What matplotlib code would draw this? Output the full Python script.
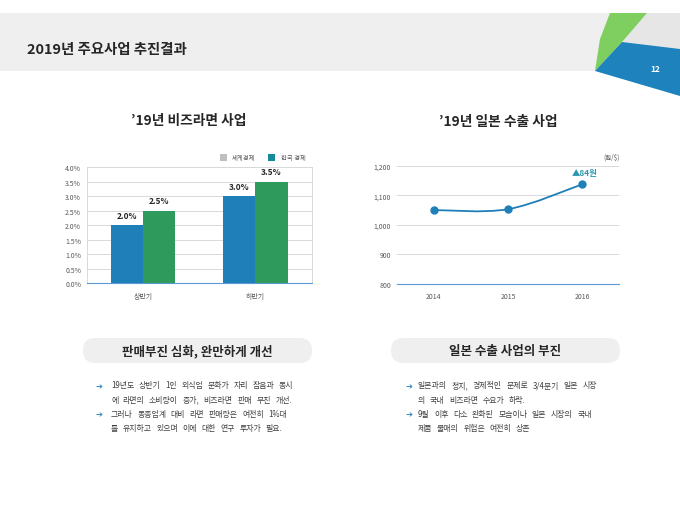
import matplotlib.pyplot as plt
from matplotlib.patches import Polygon, FancyBboxPatch, Rectangle, PathPatch
from matplotlib.path import Path

plt.rcParams['font.family'] = ['Noto Sans CJK KR', 'DejaVu Sans']

# ---- data ----
page_title = "2019년 주요사업 추진결과"
page_no = "12"

bar_title = "’19년 비즈라면 사업"
halves = ["상반기", "하반기"]
world = [2.0, 3.0]
korea = [2.5, 3.5]
bar_ticks = [0.0, 0.5, 1.0, 1.5, 2.0, 2.5, 3.0, 3.5, 4.0]
legend_names = ["세계경제", "한국 경제"]

line_title = "’19년 일본 수출 사업"
years = ["2014", "2015", "2016"]
rate = [1050, 1053, 1137]
rate_ticks = [800, 900, 1000, 1100, 1200]
rate_note = "▲84원"
rate_unit = "(원/$)"

left_head = "판매부진 심화, 완만하게 개선"
left_lines = ["19년도 상반기 1인 외식업 문화가 자리 잡음과 동시",
              "에 라면의 소비량이 증가, 비즈라면 판매 부진 개선.",
              "그러나 동종업계 대비 라면 판매량은 여전히 1%대",
              "를 유지하고 있으며 이에 대한 연구 투자가 필요."]
right_head = "일본 수출 사업의 부진"
right_lines = ["일본과의 정치, 경제적인 문제로 3/4분기 일본 시장",
               "의 국내 비즈라면 수요가 하락.",
               "9월 이후 다소 완화된 모습이나 일본 시장의 국내",
               "제품 불매의 위험은 여전히 상존"]
bullet_rows = [0, 2]

blue = "#1f7fb8"
green = "#2e9a5c"
grid = "#d9d9d9"
txt = "#404040"

fig = plt.figure(figsize=(6.8, 5.1), dpi=100)
renderer = fig.canvas.get_renderer()

# background layer in pixel units
bg = fig.add_axes([0, 0, 1, 1])
bg.set_xlim(0, 680)
bg.set_ylim(510, 0)
bg.axis("off")

bg.add_patch(Rectangle((0, 14), 680, 58, color="#efefef", lw=0))
bg.add_patch(Polygon([(622, 43), (647, 14), (680, 14), (680, 50)], color="#e6e6e6", lw=0))
bg.add_patch(Polygon([(610, 14), (647, 14), (622, 43), (595, 72), (600, 40)], color="#7ecf5f", lw=0))
bg.add_patch(Polygon([(595, 72), (622, 43), (680, 50), (680, 97)], color="#1e82bd", lw=0))
bg.text(655, 70, page_no, color="white", fontsize=6, fontweight="bold", ha="center", va="center")
bg.text(27, 50, page_title, color="#262626", fontsize=10.4, fontweight="bold", va="center")

bg.text(189, 121, bar_title, color="#262626", fontsize=9.9, fontweight="bold", ha="center", va="center")
bg.text(498, 122, line_title, color="#262626", fontsize=9.9, fontweight="bold", ha="center", va="center")

# legend of the bar chart (as drawn in the original)
bg.add_patch(Rectangle((220, 155), 7, 7, color="#bfbfbf", lw=0))
bg.text(232, 158.5, legend_names[0], color="#595959", fontsize=4.6, va="center")
bg.add_patch(Rectangle((268, 155), 7, 7, color="#138a9e", lw=0))
bg.text(281, 158.5, legend_names[1], color="#595959", fontsize=4.6, va="center")


def words_line(x0, y, s, size, x1, gap=4.5):
    # place the words of one line with wide word gaps, squeezed to end before x1
    words = s.split(" ")
    items = [bg.text(0, y, w, color=txt, fontsize=size, va="center") for w in words]
    widths = [t.get_window_extent(renderer).width for t in items]
    n = max(len(words) - 1, 1)
    gap = min(gap, (x1 - x0 - sum(widths)) / n)
    x = x0
    for t, w in zip(items, widths):
        t.set_x(x)
        x += w + gap


# pills and bullets
for x0, w, head, lines, ax_x, tx_x, tx_end in [
        (83, 229, left_head, left_lines, 96, 111, 298),
        (391, 229, right_head, right_lines, 406, 418, 608)]:
    bg.add_patch(FancyBboxPatch((x0, 339), w, 25, boxstyle="round,pad=0,rounding_size=12.5",
                                color="#efefef", lw=0))
    bg.text(x0 + w / 2, 352, head, color="#262626", fontsize=9, fontweight="bold",
            ha="center", va="center")
    for i, s in enumerate(lines):
        y = 386 + i * 14.3
        if i in bullet_rows:
            bg.text(ax_x, y, "➔", color="#2e86c1", fontsize=6, family=["DejaVu Sans"],
                    ha="left", va="center")
        words_line(tx_x, y, s, 5.7, tx_end)

# ---- bar chart ----
ax1 = fig.add_axes([86.7 / 680, 1 - 284.3 / 510, 225 / 680, 116 / 510])
ax1.patch.set_alpha(0)
bw = 0.285
xs = list(range(len(halves)))
b1 = ax1.bar([x - bw / 2 for x in xs], world, bw, color=blue, zorder=3)
b2 = ax1.bar([x + bw / 2 for x in xs], korea, bw, color=green, zorder=3)
for bars, vals in [(b1, world), (b2, korea)]:
    for b, v in zip(bars, vals):
        ax1.annotate(f"{v:.1f}%", (b.get_x() + b.get_width() / 2, v), xytext=(0, 4),
                     textcoords="offset points", ha="center", va="bottom",
                     fontsize=6, fontweight="bold", color="#262626")
ax1.set_xlim(-0.5, 1.5)
ax1.set_ylim(0, 4.0)
ax1.set_yticks(bar_ticks)
ax1.set_yticklabels([f"{t:.1f}%" for t in bar_ticks])
ax1.set_xticks(xs)
ax1.set_xticklabels(halves)
ax1.grid(axis="y", color=grid, lw=0.7, zorder=0)
ax1.tick_params(length=0, labelsize=5, labelcolor="#595959", pad=4)
ax1.tick_params(axis="x", pad=6)
for s in ["left", "right", "top"]:
    ax1.spines[s].set_color(grid)
    ax1.spines[s].set_linewidth(0.7)
ax1.spines["bottom"].set_color("#5b9bd5")
ax1.spines["bottom"].set_linewidth(0.8)

# ---- line chart ----
ax2 = fig.add_axes([396.7 / 680, 1 - 285 / 510, 222.6 / 680, 118.3 / 510])
ax2.patch.set_alpha(0)
pts = list(zip(range(len(rate)), rate))
verts = [pts[0]]
codes = [Path.MOVETO]
for i in range(len(pts) - 1):
    p0 = pts[max(i - 1, 0)]
    p1 = pts[i]
    p2 = pts[i + 1]
    p3 = pts[min(i + 2, len(pts) - 1)]
    c1 = (p1[0] + (p2[0] - p0[0]) / 6, p1[1] + (p2[1] - p0[1]) / 6)
    c2 = (p2[0] - (p3[0] - p1[0]) / 6, p2[1] - (p3[1] - p1[1]) / 6)
    verts += [c1, c2, p2]
    codes += [Path.CURVE4] * 3
ax2.add_patch(PathPatch(Path(verts, codes), fill=False, edgecolor=blue, lw=1.3, zorder=3))
ax2.plot(range(len(rate)), rate, "o", color=blue, ms=5, zorder=4)
ax2.annotate(rate_note, (2, rate[-1]), xytext=(1.5, 5), textcoords="offset points",
             ha="center", va="bottom", fontsize=6, fontweight="bold", color="#2a97b0")
ax2.text(1.0, 1.04, rate_unit, transform=ax2.transAxes, ha="right", va="bottom",
         fontsize=4.6, color="#595959")
ax2.set_xlim(-0.5, 2.5)
ax2.set_ylim(800, 1200)
ax2.set_yticks(rate_ticks)
ax2.set_yticklabels([f"{t:,}" for t in rate_ticks])
ax2.set_xticks(range(len(years)))
ax2.set_xticklabels(years)
ax2.grid(axis="y", color=grid, lw=0.7, zorder=0)
ax2.tick_params(length=0, labelsize=5, labelcolor="#595959", pad=4)
ax2.tick_params(axis="x", pad=6)
for s in ["left", "right", "top"]:
    ax2.spines[s].set_visible(False)
ax2.spines["bottom"].set_color("#5b9bd5")
ax2.spines["bottom"].set_linewidth(0.8)

fig.savefig("out.png", dpi=100)
